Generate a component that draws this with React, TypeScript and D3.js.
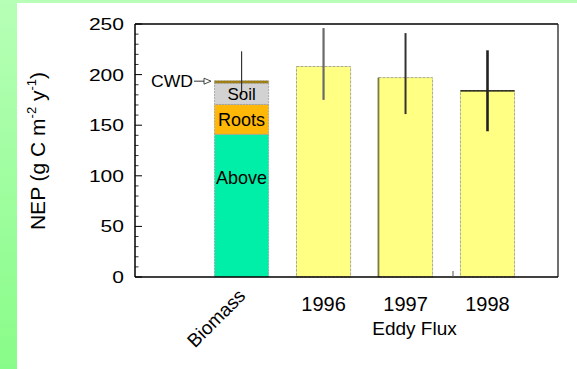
import React from "react";
import * as d3 from "d3";

// Categories along the x axis
const categories = ["Biomass", "1996", "1997", "1998"];
// Stacked biomass components (g C m-2 y-1), bottom to top
const biomassNames = ["Above", "Roots", "Soil", "CWD"];
const biomassValues = [141, 29.5, 21, 2.5];
// Eddy flux NEP by year
const fluxYears = ["1996", "1997", "1998"];
const fluxValues = [208, 197, 184];
// Error bar extents per category
const errLow = [180, 175, 161, 144];
const errHigh = [223, 246, 241, 224];
// Y axis ticks
const yTicks = [0, 50, 100, 150, 200, 250];

const W = 577;
const H = 369;
const M = { left: 135, right: 558, top: 24, bottom: 277 };

const biomassColors = ["#00EFA8", "#FFB808", "#D2D2D2", "#A07C00"];
const fluxColor = "#FFFF84";
const font = "'Liberation Sans', Arial, Helvetica, sans-serif";

export default function App() {
  const y = d3.scaleLinear().domain([0, 250]).range([M.bottom, M.top]);
  const x = d3.scaleLinear().domain([-1.3, 3.86]).range([M.left, M.right]);
  const barHalf = 0.33;
  const bw = x(barHalf) - x(-barHalf);

  const stack = d3.cumsum(biomassValues);
  const stackStart = [0, ...Array.from(stack).slice(0, -1)];
  const minorTicks = d3.range(0, 251, 10).filter((v) => v % 50 !== 0);

  const errWidths = [1.2, 2.2, 2, 2.6];
  const errColors = ["#333", "#6a6a6a", "#333", "#222"];

  return (
    <svg
      width={W}
      height={H}
      style={{ position: "fixed", left: 0, top: 0, background: "#fff" }}
      fontFamily={font}
    >
      <defs>
        <linearGradient id="side" x1="0" y1="0" x2="0" y2="1">
          <stop offset="0" stopColor="#B6FFB6" />
          <stop offset="1" stopColor="#88FC88" />
        </linearGradient>
      </defs>
      <rect x={0} y={0} width={W} height={H} fill="#fff" />
      <rect x={0} y={0} width={W} height={3} fill="#B8FFB8" />
      <rect x={0} y={0} width={17} height={H} fill="url(#side)" />

      {/* Biomass stacked bar */}
      {biomassValues.map((v, i) => (
        <rect
          key={biomassNames[i]}
          x={x(0) - bw / 2}
          y={y(stack[i])}
          width={bw}
          height={y(stackStart[i]) - y(stack[i])}
          fill={biomassColors[i]}
          stroke="#9a9a9a"
          strokeWidth={0.8}
          strokeDasharray="2 1"
        />
      ))}

      {/* Eddy flux bars */}
      {fluxValues.map((v, i) => (
        <rect
          key={fluxYears[i]}
          x={x(i + 1) - bw / 2}
          y={y(v)}
          width={bw}
          height={y(0) - y(v)}
          fill={fluxColor}
          stroke="#a0a080"
          strokeWidth={0.9}
          strokeDasharray="3 1"
        />
      ))}
      {/* edge accents */}
      <line x1={x(2) - bw / 2} x2={x(2) - bw / 2} y1={y(fluxValues[1])} y2={y(0)} stroke="#7a7a40" strokeWidth={1.8} />
      <line x1={x(3) - bw / 2} x2={x(3) + bw / 2} y1={y(fluxValues[2])} y2={y(fluxValues[2])} stroke="#000" strokeWidth={1.3} />

      {/* Error bars */}
      {categories.map((c, i) => (
        <line
          key={"e" + c}
          x1={x(i)}
          x2={x(i)}
          y1={y(errHigh[i])}
          y2={y(errLow[i])}
          stroke={errColors[i]}
          strokeWidth={errWidths[i]}
        />
      ))}

      {/* Segment labels */}
      <text x={x(0)} y={y(0) - (y(0) - y(biomassValues[0])) * 0.655} textAnchor="middle" fontSize={18}>Above</text>
      <text x={x(0)} y={y(stack[1]) + 22} textAnchor="middle" fontSize={18}>Roots</text>
      <text x={x(0)} y={y(stack[2]) + 17} textAnchor="middle" fontSize={17}>Soil</text>
      <text x={151} y={y(stack[3]) + 6} fontSize={16} textLength={42} lengthAdjust="spacingAndGlyphs">CWD</text>
      <line x1={194} x2={204} y1={y(stack[3]) + 0.5} y2={y(stack[3]) + 0.5} stroke="#333" strokeWidth={1} />
      <path
        d={`M${204},${y(stack[3]) - 2.5} L${211},${y(stack[3]) + 0.5} L${204},${y(stack[3]) + 3.5} Z`}
        fill="#fff"
        stroke="#333"
        strokeWidth={0.9}
      />

      {/* Frame */}
      <line x1={M.left} x2={M.right} y1={M.top} y2={M.top} stroke="#000" strokeWidth={1.5} />
      <line x1={M.right} x2={M.right} y1={M.top} y2={M.bottom} stroke="#222" strokeWidth={1.3} />
      <line x1={M.left} x2={M.right} y1={M.bottom} y2={M.bottom} stroke="#000" strokeWidth={1.5} />
      <line x1={M.left} x2={M.left} y1={M.top} y2={M.bottom} stroke="#000" strokeWidth={1.5} />
      <line x1={453} x2={453} y1={M.bottom - 6} y2={M.bottom} stroke="#555" strokeWidth={1} />

      {/* Y ticks */}
      {yTicks.map((t) => (
        <g key={"t" + t}>
          <line x1={M.left} x2={M.left + 7} y1={y(t)} y2={y(t)} stroke="#000" strokeWidth={1} />
          <text
            x={124}
            y={y(t) + 6}
            textAnchor="end"
            fontSize={17}
            textLength={String(t).length * 11.7}
            lengthAdjust="spacingAndGlyphs"
          >
            {t}
          </text>
        </g>
      ))}
      {minorTicks.map((t) => (
        <line key={"m" + t} x1={M.left} x2={M.left + 3.5} y1={y(t)} y2={y(t)} stroke="#000" strokeWidth={0.8} />
      ))}

      {/* Y label */}
      <text transform={`translate(45,151) rotate(-90)`} textAnchor="middle" fontSize={21}>
        NEP (g C m
        <tspan fontSize={13} dy={-9}>-2</tspan>
        <tspan dy={9}> y</tspan>
        <tspan fontSize={13} dy={-9}>-1</tspan>
        <tspan dy={9}>)</tspan>
      </text>

      {/* X labels */}
      <text transform={`translate(${x(0) + 5},297) rotate(-45)`} textAnchor="end" fontSize={19}>
        {categories[0]}
      </text>
      {fluxYears.map((yr, i) => (
        <text key={"x" + yr} x={x(i + 1)} y={311} textAnchor="middle" fontSize={20}>
          {yr}
        </text>
      ))}
      <text x={x(2) + 9} y={335} textAnchor="middle" fontSize={19}>Eddy Flux</text>
    </svg>
  );
}
